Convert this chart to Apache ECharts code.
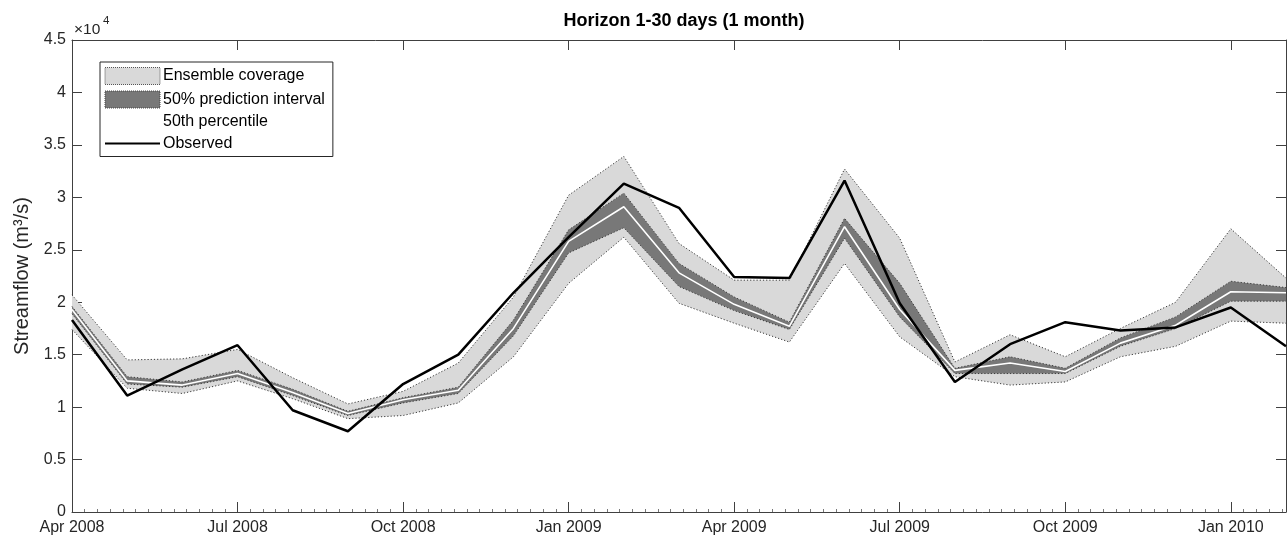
<!DOCTYPE html>
<html><head><meta charset="utf-8">
<script src="https://cdn.jsdelivr.net/npm/echarts@6/dist/echarts.min.js"></script>
<style>html,body{margin:0;padding:0;background:#fff}#c{width:1288px;height:543px}</style>
</head><body><div id="c"></div>
<script>
const monthLabels = ['Apr 2008','May 2008','Jun 2008','Jul 2008','Aug 2008','Sep 2008','Oct 2008','Nov 2008','Dec 2008','Jan 2009','Feb 2009','Mar 2009','Apr 2009','May 2009','Jun 2009','Jul 2009','Aug 2009','Sep 2009','Oct 2009','Nov 2009','Dec 2009','Jan 2010','Feb 2010'];
const ensLow   = [17400,11800,11300,12500,10800, 8900, 9200,10400,14800,21800,26200,19900,18000,16200,23700,16700,12900,12100,12400,14800,15800,18200,18000];
const ensHigh  = [20700,14500,14600,15500,12800,10300,11500,14200,20500,30200,33900,25600,22100,22100,32700,26100,14300,16900,14800,17500,20000,27000,22300];
const q25      = [18900,12200,11900,12900,11100, 9200,10400,11300,16800,24700,27100,21500,19200,17400,26100,18600,13200,13200,13200,15800,17500,20100,20100];
const q75      = [19600,12900,12400,13500,11700, 9600,10900,11900,18300,26900,30400,23700,20500,18100,28000,21800,13700,14800,13700,16600,18600,22000,21400];
const median   = [19300,12500,12100,13200,11400, 9400,10700,11600,17500,25800,29100,22800,19800,17700,27200,19300,13500,14200,13400,16100,17800,21000,20900];
const observed = [18300,11100,13600,15900, 9700, 7700,12200,15000,20900,26200,31300,29000,22400,22300,31600,19900,12400,16000,18100,17300,17600,19500,15800];
const yTicks = {min: 0, max: 45000, step: 5000, scale: 10000};

const FONT = 'Liberation Sans';
const AX = '#404040';
const ensRange = ensHigh.map((v, i) => v - ensLow[i]);
const iqrRange = q75.map((v, i) => v - q25[i]);
const dotted = [1.2, 2];

const chart = echarts.init(document.getElementById('c'), null, {renderer: 'canvas'});
const base = {type: 'line', xAxisIndex: 0, yAxisIndex: 0, showSymbol: false, symbol: 'none', silent: true};
chart.setOption({
  animation: false,
  backgroundColor: '#fff',
  title: {text: 'Horizon 1-30 days (1 month)', left: 679, top: 7, textAlign: 'center',
    textStyle: {fontFamily: FONT, fontWeight: 'bold', fontSize: 18, color: '#000'}},
  grid: {left: 72, right: 2, top: 40, bottom: 31, containLabel: false},
  legend: {
    orient: 'vertical', left: 100, top: 62, itemWidth: 55, itemHeight: 17, itemGap: 5.5,
    padding: [5, 8, 5, 4], backgroundColor: '#fff', borderColor: '#262626', borderWidth: 1,
    textStyle: {fontFamily: FONT, fontSize: 16, color: '#000', padding: [0, 0, 0, -2]},
    selectedMode: false,
    data: [
      {name: 'Ensemble coverage', icon: 'rect', itemStyle: {color: '#d9d9d9', borderColor: '#555', borderWidth: 1, borderType: 'dotted'}},
      {name: '50% prediction interval', icon: 'rect', itemStyle: {color: '#787878', borderColor: '#444', borderWidth: 1, borderType: 'dotted'}},
      {name: '50th percentile', itemStyle: {opacity: 0}},
      {name: 'Observed', itemStyle: {opacity: 0, color: 'transparent', borderWidth: 0}}
    ]
  },
  xAxis: [
    {type: 'category', data: monthLabels, boundaryGap: false, position: 'bottom',
      axisLine: {lineStyle: {color: AX, width: 1}},
      axisTick: {inside: true, length: 10, interval: 2, lineStyle: {color: AX}},
      axisLabel: {interval: 2, margin: 8, fontFamily: FONT, fontSize: 16, color: '#262626'},
      splitLine: {show: false}},
    {type: 'value', min: 0, max: 22, interval: 3, position: 'bottom',
      axisLine: {show: false}, axisLabel: {show: false}, splitLine: {show: false},
      axisTick: {show: true, inside: true, length: 10, lineStyle: {color: AX}},
      minorTick: {show: true, splitNumber: 13, length: 3, lineStyle: {color: '#555', width: 0.8}},
      minorSplitLine: {show: false}},
    {type: 'category', data: monthLabels, boundaryGap: false, position: 'top',
      axisLine: {lineStyle: {color: AX, width: 1}},
      axisTick: {inside: true, length: 10, interval: 2, lineStyle: {color: AX}},
      axisLabel: {show: false}, splitLine: {show: false}}
  ],
  yAxis: [
    {type: 'value', min: yTicks.min, max: yTicks.max, interval: yTicks.step, position: 'left',
      name: 'Streamflow (m³/s)', nameLocation: 'middle', nameGap: 39, nameRotate: 90,
      nameTextStyle: {fontFamily: FONT, fontSize: 20, color: '#262626'},
      axisLine: {show: true, lineStyle: {color: AX, width: 1}},
      axisTick: {show: true, inside: true, length: 10, lineStyle: {color: AX}},
      axisLabel: {margin: 6, fontFamily: FONT, fontSize: 16, color: '#262626',
        formatter: v => String(v / yTicks.scale)},
      splitLine: {show: false}},
    {type: 'value', min: yTicks.min, max: yTicks.max, interval: yTicks.step, position: 'right',
      axisLine: {show: true, lineStyle: {color: AX, width: 1}},
      axisTick: {show: true, inside: true, length: 10, lineStyle: {color: AX}},
      axisLabel: {show: false}, splitLine: {show: false}}
  ],
  graphic: [
    {type: 'text', left: 74, top: 22, style: {text: '×10', fontFamily: FONT, fontSize: 15.5, fill: '#262626'}},
    {type: 'text', left: 103, top: 15, style: {text: '4', fontFamily: FONT, fontSize: 11.5, fill: '#262626'}}
  ],
  series: [
    Object.assign({}, base, {name: 'ensBase', stack: 'ens', data: ensLow, lineStyle: {opacity: 0, width: 0}, z: 1}),
    Object.assign({}, base, {name: 'Ensemble coverage', stack: 'ens', data: ensRange,
      itemStyle: {color: '#d9d9d9'}, lineStyle: {width: 0, color: '#d9d9d9'},
      areaStyle: {color: '#d9d9d9', opacity: 1}, z: 1}),
    Object.assign({}, base, {name: 'iqrBase', stack: 'iqr', data: q25, lineStyle: {opacity: 0, width: 0}, z: 2}),
    Object.assign({}, base, {name: '50% prediction interval', stack: 'iqr', data: iqrRange,
      itemStyle: {color: '#787878'}, lineStyle: {width: 0, color: '#787878'},
      areaStyle: {color: '#787878', opacity: 1}, z: 2}),
    Object.assign({}, base, {name: 'ensLowLine', data: ensLow, lineStyle: {color: '#3a3a3a', width: 1, type: dotted}, z: 3}),
    Object.assign({}, base, {name: 'ensHighLine', data: ensHigh, lineStyle: {color: '#3a3a3a', width: 1, type: dotted}, z: 3}),
    Object.assign({}, base, {name: 'q25Line', data: q25, lineStyle: {color: '#3a3a3a', width: 1, type: dotted}, z: 3}),
    Object.assign({}, base, {name: 'q75Line', data: q75, lineStyle: {color: '#3a3a3a', width: 1, type: dotted}, z: 3}),
    Object.assign({}, base, {name: '50th percentile', data: median, itemStyle: {color: '#fff'},
      lineStyle: {color: '#ffffff', width: 1.6}, z: 4}),
    Object.assign({}, base, {name: 'Observed', data: observed, itemStyle: {color: '#000'},
      lineStyle: {color: '#000000', width: 2.5}, z: 5})
  ]
});
</script></body></html>
